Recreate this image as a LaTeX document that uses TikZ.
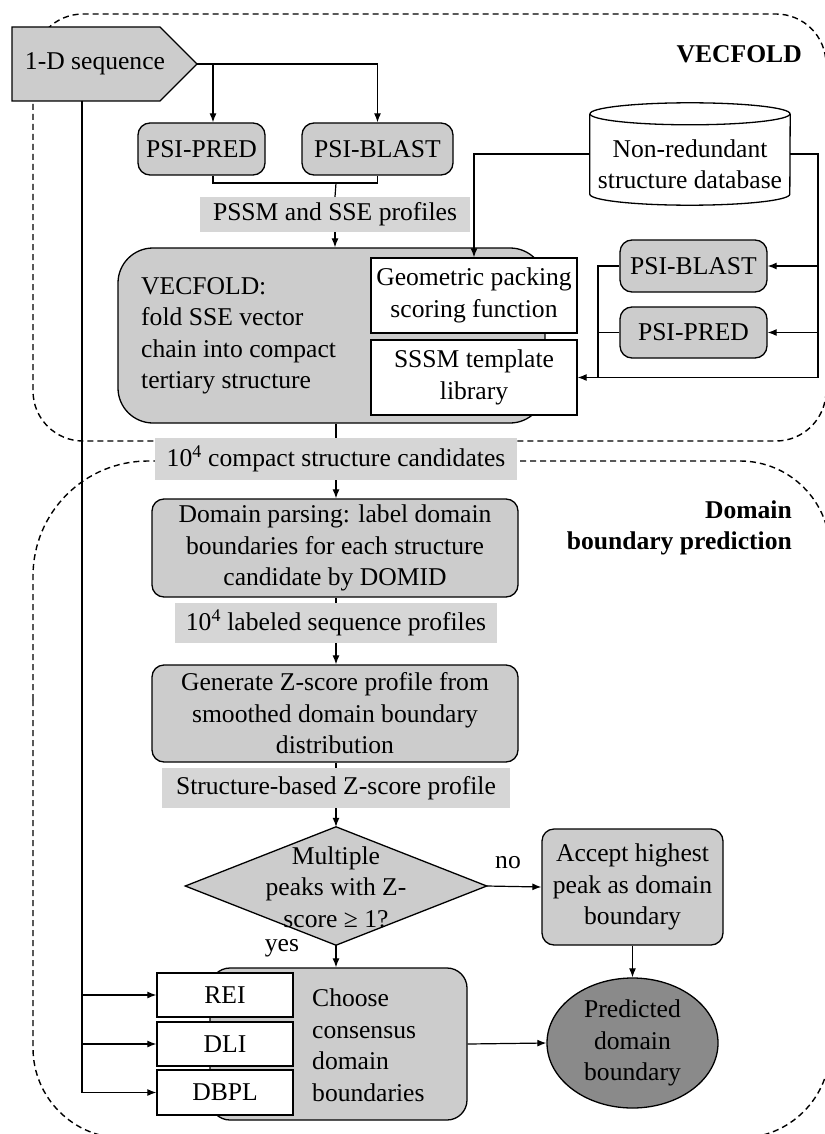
\documentclass[tikz,border=0pt]{standalone}
\usepackage{fontspec}
\setmainfont{Liberation Serif}
\usetikzlibrary{arrows.meta,shapes.geometric}
\definecolor{boxgray}{RGB}{204,204,204}
\definecolor{taggray}{RGB}{214,214,214}
\definecolor{darkfill}{RGB}{138,138,138}
\begin{document}
\begin{tikzpicture}[x=1pt,y=-1pt,
  every node/.style={font=\fontsize{25.6}{31.5}\selectfont, inner sep=0pt},
  graybox/.style={draw, line width=1.3pt, fill=boxgray, rounded corners=12pt},
  whitebox/.style={draw, line width=1.3pt, fill=white},
  tag/.style={fill=taggray},
  link/.style={line width=1.2pt},
  arr/.style={link, -{Latex[length=9pt,width=7pt]}},
  region/.style={dash pattern=on 6pt off 4pt, line width=1.4pt},
  title/.style={font=\fontsize{25.6}{31.5}\selectfont\bfseries}
]
\useasboundingbox (0,0) rectangle (824,1134);

% dashed stage outlines
\draw[region, rounded corners=50pt] (33,14) rectangle (826,441);
\draw[region, rounded corners=90pt] (300,461) -- (830,461) -- (830,1138) -- (33,1138) -- (33,700);
\draw[region, rounded corners=115pt] (33,700) -- (33,461) -- (300,461);

% stage titles
\node[title, anchor=east] (t1) at (802,54) {VECFOLD};
\node[title, anchor=east, align=right] (t2) at (792,528) {Domain\\boundary prediction};

% input sequence
\draw[line width=1.4pt, fill=boxgray] (12,27) -- (160,27) -- (197,64) -- (160,101) -- (12,101) -- cycle;
\node (seq) at (95,64) {1-D sequence};
\coordinate (seqtip) at (197,64);
\coordinate (seqfoot) at (82,101);
\coordinate (fork1) at (213,64);
\coordinate (join1) at (336,183);

% profile generation
\node[graybox, minimum width=127, minimum height=52] (psipred) at (201.5,149) {PSI-PRED};
\node[graybox, minimum width=151, minimum height=52] (psiblast) at (377.5,149) {PSI-BLAST};
\node[tag, minimum width=270, minimum height=35] (pssm) at (335,214.5) {PSSM and SSE profiles};

% folding
\node[graybox, rounded corners=35pt, minimum width=427, minimum height=175] (vecfold) at (331.5,335.5) {};
\node[anchor=west, align=left] (vecfoldtxt) at (141,336) {VECFOLD:\\fold SSE vector\\chain into compact\\tertiary structure};
\node[whitebox, align=center, minimum width=206, minimum height=75] (geom) at (474,295.5) {Geometric packing\\scoring function};
\node[whitebox, align=center, minimum width=206, minimum height=75] (sssm) at (474,377.5) {SSSM template\\library};

% structure database drawn as a cylinder around its node
\node[minimum width=200, minimum height=102] (db) at (690,154) {};
\filldraw[line width=1.3pt, fill=white]
  ([yshift=-11pt]db.north west) -- ([yshift=11pt]db.south west)
  arc[start angle=180, end angle=360, x radius=100pt, y radius=11pt]
  -- ([yshift=-11pt]db.north east);
\draw[line width=1.3pt, fill=white] ([yshift=-11pt]db.north) ellipse[x radius=100pt, y radius=11pt];
\node[align=center] (dbtxt) at (690,164) {Non-redundant\\structure database};
\node[graybox, minimum width=147, minimum height=52] (psiblast2) at (693.5,266) {PSI-BLAST};
\node[graybox, minimum width=147, minimum height=51] (psipred2) at (693.5,332.5) {PSI-PRED};
\coordinate (rail) at (818,377.5);
\coordinate (lrail) at (598,377.5);

% domain parsing
\node[tag, minimum width=362, minimum height=42] (cand) at (336,459) {10\textsuperscript{4} compact structure candidates};
\node[graybox, align=center, minimum width=366, minimum height=98] (domid) at (335,548) {Domain parsing: label domain\\boundaries for each structure\\candidate by DOMID};
\node[tag, minimum width=322, minimum height=40] (labeled) at (336,623) {10\textsuperscript{4} labeled sequence profiles};
\node[graybox, align=center, minimum width=366, minimum height=97] (gen) at (335,713.5) {Generate Z-score profile from\\smoothed domain boundary\\distribution};
\node[tag, minimum width=348, minimum height=40] (zprof) at (336,788) {Structure-based Z-score profile};

% decision
\node[minimum width=301, minimum height=118] (dec) at (336,886) {};
\draw[line width=1.3pt, fill=boxgray] (dec.north) -- (dec.east) -- (dec.south) -- (dec.west) -- cycle;
\node[align=center] (dectxt) at (336,887) {Multiple\\peaks with Z-\\score ≥ 1?};
\node (no) at (508,863) {no};
\node (yes) at (282,948) {yes};
\node[graybox, align=center, minimum width=181, minimum height=116] (accept) at (632.5,887) {Accept highest\\peak as domain\\boundary};

% consensus
\node[graybox, rounded corners=20pt, minimum width=257, minimum height=152] (choose) at (338.5,1044) {};
\node[anchor=west, align=left] (choosetxt) at (312,1045) {Choose\\consensus\\domain\\boundaries};
\node[whitebox, minimum width=136, minimum height=44] (rei) at (225,995) {REI};
\node[whitebox, minimum width=136, minimum height=44] (dli) at (225,1044) {DLI};
\node[whitebox, minimum width=136, minimum height=45] (dbpl) at (225,1092.5) {DBPL};
\node[draw, ellipse, line width=1.3pt, fill=darkfill, align=center, minimum width=171, minimum height=130] (pred) at (632.5,1043) {Predicted\\domain\\boundary};

% connectors
\draw[link] (seqtip) -- (seqtip -| psiblast.north);
\draw[arr] (fork1) -- (fork1 |- psipred.north);
\draw[arr] (seqtip -| psiblast.north) -- (psiblast.north);
\draw[link] (fork1 |- psipred.south) |- (psiblast.south |- join1) -- (psiblast.south);
\draw[link] (join1) -- (pssm.north);
\draw[arr] (pssm.south) -- (pssm.south |- vecfold.north);
\draw[arr] (db.west) -| (geom.north);
\draw[link] (db.east) -| (rail);
\draw[arr] (rail) -- (sssm.east);
\draw[arr] (psiblast2.east -| rail) -- (psiblast2.east);
\draw[arr] (psipred2.east -| rail) -- (psipred2.east);
\draw[link] (psiblast2.west) -| (lrail);
\draw[link] (psipred2.west) -- (psipred2.west -| lrail);
\draw[link] (cand.north |- vecfold.south) -- (cand.north);
\draw[arr] (cand.south) -- (cand.south |- domid.north);
\draw[link] (labeled.north |- domid.south) -- (labeled.north);
\draw[arr] (labeled.south) -- (labeled.south |- gen.north);
\draw[link] (zprof.north |- gen.south) -- (zprof.north);
\draw[arr] (zprof.south) -- (dec.north);
\draw[arr] (dec.east) -- (accept.west);
\draw[arr] (accept.south) -- (pred.north);
\draw[arr] (dec.south) -- (dec.south |- choose.north);
\draw[arr] (choose.east) -- (pred.west);
\draw[link] (seqfoot) -- (seqfoot |- rei.west);
\draw[arr] (seqfoot |- rei.west) -- (rei.west);
\draw[arr] (seqfoot |- dli.west) -- (dli.west);
\draw[arr] (seqfoot |- rei.west) |- (dbpl.west);
\end{tikzpicture}
\end{document}
